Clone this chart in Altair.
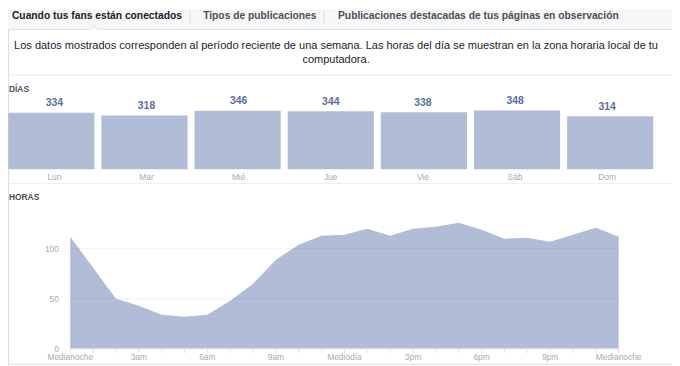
import altair as alt
import pandas as pd

# ---- data ----
days = ["Lun", "Mar", "Mié", "Jue", "Vie", "Sáb", "Dom"]
day_values = [334, 318, 346, 344, 338, 348, 314]

hours = list(range(25))
hour_values = [112, 81, 50, 43, 34, 32, 34, 48, 65, 89, 104, 113, 114,
               120, 113, 120, 122, 126, 119, 110, 111, 107, 114, 121, 112]

hour_tick_pos = [0, 3, 6, 9, 12, 15, 18, 21, 24]
hour_tick_labels = ["Medianoche", "3am", "6am", "9am", "Mediodía",
                    "3pm", "6pm", "9pm", "Medianoche"]
y_ticks = [0, 50, 100]

tabs = ["Cuando tus fans están conectados", "Tipos de publicaciones",
        "Publicaciones destacadas de tus páginas en observación"]
desc_lines = ["Los datos mostrados corresponden al período reciente de una semana. Las horas del día se muestran en la zona horaria local de tu",
              "computadora."]

FONT = "Liberation Sans"
BAR_COLOR = "#b1bcd7"
AXIS_TEXT = "#a7abb1"

one = pd.DataFrame({"a": [0]})
df_days = pd.DataFrame({"day": days, "value": day_values})
df_hours = pd.DataFrame({"hour": hours, "value": hour_values})
df_hticks = pd.DataFrame({"hour": hour_tick_pos, "label": hour_tick_labels})
df_yticks = pd.DataFrame({"v": y_ticks, "label": [str(v) for v in y_ticks]})

# chart coordinates = page coordinates - 8
bx = alt.Scale(domain=days, range=[0.3, 653], paddingInner=0.075, paddingOuter=0)
by = alt.Scale(domain=[0, 400], range=[161, 92.7])
hx = alt.Scale(domain=[0, 24], range=[63, 618], nice=False, zero=False)
hy = alt.Scale(domain=[0, 150], range=[342.7, 190.75], nice=False)


def txt(text, x, y, size=12, weight="normal", color="#1d2129", align="left"):
    return alt.Chart(one).mark_text(
        text=text, font=FONT, fontSize=size, fontWeight=weight, color=color,
        align=align, baseline="middle"
    ).encode(x=alt.value(x), y=alt.value(y))


def rule(x, x2, y, y2, color="#dddfe2", width=1):
    return alt.Chart(one).mark_rule(color=color, strokeWidth=width).encode(
        x=alt.value(x), x2=alt.value(x2), y=alt.value(y), y2=alt.value(y2))


header_bg = alt.Chart(one).mark_rect(color="#f6f7f9").encode(
    x=alt.value(0), x2=alt.value(672), y=alt.value(0), y2=alt.value(19))

caret = alt.Chart(one).mark_point(
    shape="triangle-up", filled=True, fill="white", stroke="#dddfe2",
    strokeWidth=1, size=45, opacity=1
).encode(x=alt.value(87), y=alt.value(18))
caret_cover = alt.Chart(one).mark_rect(color="white").encode(
    x=alt.value(82), x2=alt.value(92), y=alt.value(19.5), y2=alt.value(22))

layers = [
    header_bg,
    rule(0, 672, 19.5, 19.5),
    caret, caret_cover,
    rule(184, 184, 0, 14),
    rule(320, 320, 0, 14),
    txt(tabs[0], 4, 5.5, 10.4, "bold", "#1d2129"),
    txt(tabs[1], 197.5, 5.5, 10.4, "bold", "#4b4f56"),
    txt(tabs[2], 334, 5.5, 10.4, "bold", "#4b4f56"),
    txt(desc_lines[0], 332, 36, 11.15, "normal", "#1d2129", "center"),
    txt(desc_lines[1], 332, 51, 11.15, "normal", "#1d2129", "center"),
    rule(0, 672, 65.5, 65.5, "#e5e6e9"),
    rule(0, 672, 175.5, 175.5, "#eeeff1"),
    txt("DÍAS", 1, 80, 8.5, "bold", "#4b4f56"),
    txt("HORAS", 1, 189, 8.5, "bold", "#4b4f56"),
]

bars = alt.Chart(df_days).mark_bar(color=BAR_COLOR).encode(
    x=alt.X("day:N", scale=bx, axis=None),
    y=alt.Y("value:Q", scale=by, axis=None),
)
bar_labels = alt.Chart(df_days).mark_text(
    font=FONT, fontSize=10.5, fontWeight="bold", color="#5a6ea2",
    baseline="middle", dy=-9.5
).encode(
    x=alt.X("day:N", scale=bx, axis=None),
    y=alt.Y("value:Q", scale=by, axis=None),
    text="value:Q",
)
day_labels = alt.Chart(df_days).mark_text(
    font=FONT, fontSize=8.5, color=AXIS_TEXT, baseline="middle"
).encode(
    x=alt.X("day:N", scale=bx, axis=None),
    y=alt.value(169),
    text="day:N",
)

area = alt.Chart(df_hours).mark_area(color=BAR_COLOR, opacity=1).encode(
    x=alt.X("hour:Q", scale=hx, axis=None),
    y=alt.Y("value:Q", scale=hy, axis=None),
)
grid = alt.Chart(df_yticks[df_yticks.v > 0]).mark_rule(
    color="#000000", opacity=0.06, strokeWidth=1
).encode(
    y=alt.Y("v:Q", scale=hy, axis=None),
    x=alt.value(63), x2=alt.value(618),
)
baseline = rule(63, 618, 342.7, 342.7, "#dddfe2")
y_labels = alt.Chart(df_yticks).mark_text(
    font=FONT, fontSize=8.5, color=AXIS_TEXT, align="right", baseline="middle"
).encode(
    y=alt.Y("v:Q", scale=hy, axis=None),
    x=alt.value(51.5),
    text="label:N",
)
hour_ticks = alt.Chart(df_hours).mark_rule(color="#dddfe2").encode(
    x=alt.X("hour:Q", scale=hx, axis=None),
    y=alt.value(342.7), y2=alt.value(347),
)
hour_labels = alt.Chart(df_hticks).mark_text(
    font=FONT, fontSize=8.5, color=AXIS_TEXT, baseline="middle"
).encode(
    x=alt.X("hour:Q", scale=hx, axis=None),
    y=alt.value(351.5),
    text="label:N",
)

layers += [bars, bar_labels, day_labels, area, grid, baseline, y_labels,
           hour_ticks, hour_labels]

chart = alt.layer(*layers).resolve_scale(
    x="independent", y="independent"
).properties(
    width=672, height=358, padding=0,
    autosize=alt.AutoSizeParams(type="none"),
).configure_view(stroke=None).configure(background="white")

chart.save("out.html", embed_options={"renderer": "svg", "actions": False})
